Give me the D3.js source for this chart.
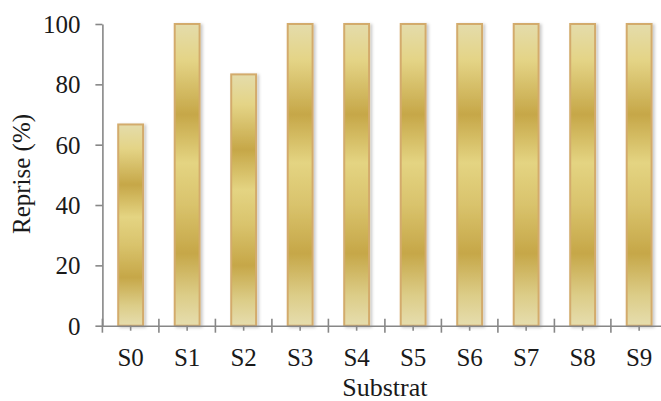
<!DOCTYPE html>
<html>
<head>
<meta charset="utf-8">
<script src="https://cdn.jsdelivr.net/npm/d3@7"></script>
<style>
  body { margin: 0; background: #fff; }
  text { font-family: "Liberation Serif", "Times New Roman", serif; fill: #1a1a1a; }
</style>
</head>
<body>
<div id="chart"></div>
<script>
// data
var categories = ["S0", "S1", "S2", "S3", "S4", "S5", "S6", "S7", "S8", "S9"];
var reprise = [66.7, 100, 83.3, 100, 100, 100, 100, 100, 100, 100];
var yTicks = [0, 20, 40, 60, 80, 100];

var svg = d3.select("#chart")
  .append("svg")
    .attr("width", 661)
    .attr("height", 401);

// gradient + shadow
var defs = svg.append("defs");
var grad = defs.append("linearGradient")
  .attr("id", "gold")
  .attr("x1", 0).attr("y1", 0).attr("x2", 0).attr("y2", 1);
[[0, "#e4dcab"], [0.12, "#e4d486"], [0.30, "#c6a748"], [0.46, "#e4d482"],
 [0.60, "#d9c36c"], [0.76, "#c6a748"], [0.90, "#dccd88"], [1, "#e6ddae"]]
  .forEach(function(s) {
    grad.append("stop").attr("offset", s[0]).attr("stop-color", s[1]);
  });
var f = defs.append("filter").attr("id", "shadow")
  .attr("x", "-30%").attr("y", "-5%").attr("width", "160%").attr("height", "110%");
f.append("feDropShadow")
  .attr("dx", 2).attr("dy", 1).attr("stdDeviation", 1.5)
  .attr("flood-color", "#000").attr("flood-opacity", 0.22);

// scales
var x = d3.scaleBand()
  .domain(categories)
  .range([102.4, 667.4])
  .paddingInner(0.56)
  .paddingOuter(0.28);

var y = d3.scaleLinear()
  .domain([0, 100])
  .range([325.7, 24]);

// bars
svg.selectAll("rect.bar")
  .data(reprise)
  .enter()
  .append("rect")
    .attr("class", "bar")
    .attr("x", function(d, i) { return x(categories[i]); })
    .attr("y", function(d) { return y(d); })
    .attr("width", x.bandwidth())
    .attr("height", function(d) { return y(0) - y(d); })
    .attr("fill", "url(#gold)")
    .attr("stroke", "#d3ab6c")
    .attr("stroke-width", 2)
    .attr("filter", "url(#shadow)");

// Y axis
var yAxis = svg.append("g")
  .attr("transform", "translate(102.4,0)")
  .call(d3.axisLeft(y).tickValues(yTicks).tickSize(7).tickPadding(15).tickSizeOuter(0));
yAxis.selectAll("text").style("font-size", "25px").attr("dy", "0.34em");

// X axis
var xAxis = svg.append("g")
  .attr("transform", "translate(0," + y(0) + ")")
  .call(d3.axisBottom(x).tickSize(5).tickPadding(18).tickSizeOuter(0));
xAxis.selectAll("text").style("font-size", "25px");

// category boundary ticks
var step = x.step();
xAxis.selectAll("line.sep")
  .data(categories.concat(["end"]))
  .enter()
  .append("line")
    .attr("class", "sep")
    .attr("x1", function(d, i) { return x.range()[0] + i * step; })
    .attr("x2", function(d, i) { return x.range()[0] + i * step; })
    .attr("y1", -7)
    .attr("y2", 7);

svg.selectAll(".domain, .tick line, line.sep")
  .attr("stroke", "#878787")
  .attr("stroke-width", 1.6);
svg.selectAll(".tick text").style("fill", "#1a1a1a").style("font-family", "Liberation Serif");

// axis titles
svg.append("text")
  .attr("x", (x.range()[0] + x.range()[1]) / 2)
  .attr("y", 396)
  .attr("text-anchor", "middle")
  .style("font-size", "26px")
  .text("Substrat");

svg.append("text")
  .attr("transform", "translate(30," + 174 + ") rotate(-90)")
  .attr("text-anchor", "middle")
  .style("font-size", "25px")
  .text("Reprise (%)");
</script>
</body>
</html>
